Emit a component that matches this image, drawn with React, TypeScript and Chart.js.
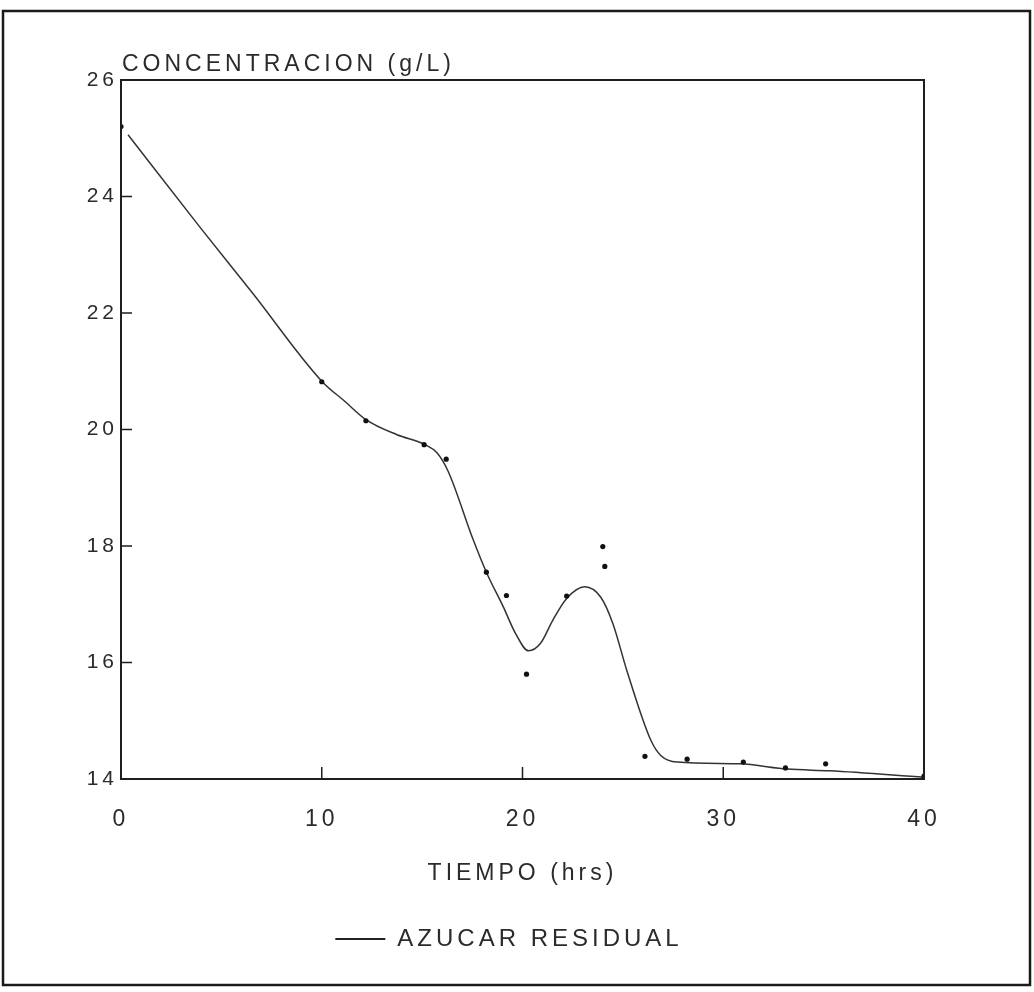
import React, { useEffect, useRef } from "react";
import { Chart, registerables } from "chart.js";

Chart.register(...registerables);

// Measured data (time in hrs, residual sugar g/L)
const pointTimes = [0, 10, 12.2, 15.1, 16.2, 18.2, 19.2, 20.2, 22.2, 24.1, 24, 26.1, 28.2, 31, 33.1, 35.1, 40];
const pointValues = [25.2, 20.82, 20.15, 19.74, 19.49, 17.55, 17.15, 15.8, 17.14, 17.65, 17.99, 14.39, 14.34, 14.29, 14.19, 14.26, 14.05];

// Fitted curve
const curveTimes = [0.35, 3.94, 6.58, 10, 11.16, 12.2, 13.75, 15.15, 15.74, 16.3, 17.54, 18.2, 19.05, 19.65, 20.3, 20.9, 21.5, 22.2, 23.1, 23.9, 24.5, 25.2, 26.4, 26.9, 27.7, 30.8, 33.2, 35.3, 40];
const curveValues = [25.06, 23.47, 22.33, 20.83, 20.48, 20.17, 19.91, 19.74, 19.6, 19.28, 18.11, 17.55, 16.95, 16.5, 16.2, 16.33, 16.72, 17.1, 17.3, 17.12, 16.67, 15.86, 14.66, 14.4, 14.29, 14.26, 14.17, 14.14, 14.03];

const xTickValues = [10, 20, 30];
const yTickValues = [16, 18, 20, 22, 24];

const yAxisLabel = "CONCENTRACION (g/L)";
const xAxisLabel = "TIEMPO (hrs)";
const seriesLabel = "AZUCAR RESIDUAL";

const FONT = "'Liberation Sans', Arial, sans-serif";
const INK = "#2b2b2b";
const SPACING = "4px";

export default function App() {
  const ref = useRef<HTMLCanvasElement | null>(null);

  useEffect(() => {
    const canvas = ref.current;
    if (!canvas) return;

    const framePlugin = {
      id: "framePlugin",
      beforeLayout(chart: any) {
        chart.ctx.letterSpacing = SPACING;
      },
      beforeDraw(chart: any) {
        chart.ctx.letterSpacing = SPACING;
      },
      afterDraw(chart: any) {
        const ctx = chart.ctx;
        const a = chart.chartArea;
        const xs = chart.scales.x;
        const ys = chart.scales.y;
        ctx.save();
        ctx.strokeStyle = "#1e1e1e";
        ctx.lineWidth = 2;
        ctx.strokeRect(a.left, a.top, a.right - a.left, a.bottom - a.top);
        ctx.lineWidth = 1.5;
        ctx.beginPath();
        for (const v of xTickValues) {
          const px = xs.getPixelForValue(v);
          ctx.moveTo(px, a.bottom);
          ctx.lineTo(px, a.bottom - 12);
        }
        for (const v of yTickValues) {
          const py = ys.getPixelForValue(v);
          ctx.moveTo(a.left, py);
          ctx.lineTo(a.left + 11, py);
        }
        ctx.stroke();
        // y axis caption above the plot
        ctx.letterSpacing = SPACING;
        ctx.fillStyle = INK;
        ctx.font = `23px ${FONT}`;
        ctx.textAlign = "left";
        ctx.textBaseline = "alphabetic";
        ctx.fillText(yAxisLabel, a.left + 1, a.top - 9);
        // outer page frame
        ctx.lineWidth = 2.5;
        ctx.strokeStyle = "#1a1a1a";
        ctx.strokeRect(3, 11, 1027, 974);
        ctx.restore();
      },
    };

    const chart = new Chart(canvas, {
      type: "scatter",
      data: {
        datasets: [
          {
            label: "curve",
            data: curveTimes.map((t, i) => ({ x: t, y: curveValues[i] })),
            showLine: true,
            borderColor: "#333",
            borderWidth: 1.5,
            pointRadius: 0,
            cubicInterpolationMode: "monotone",
            order: 2,
          },
          {
            label: seriesLabel,
            data: pointTimes.map((t, i) => ({ x: t, y: pointValues[i] })),
            showLine: false,
            backgroundColor: "#111",
            borderWidth: 0,
            pointRadius: 2.6,
            order: 1,
          },
        ],
      },
      options: {
        animation: false,
        responsive: false,
        devicePixelRatio: 1,
        layout: { padding: { top: 80, left: 0, right: 16, bottom: 31 } },
        plugins: {
          tooltip: { enabled: false },
          legend: {
            display: true,
            position: "bottom",
            labels: {
              boxWidth: 50,
              boxHeight: 2,
              padding: 8,
              color: INK,
              font: { size: 24, family: FONT },
              generateLabels: () => [
                {
                  text: seriesLabel,
                  fillStyle: "#222",
                  strokeStyle: "#222",
                  lineWidth: 0,
                  hidden: false,
                  datasetIndex: 0,
                  fontColor: INK,
                },
              ],
            },
          },
        },
        scales: {
          x: {
            type: "linear",
            min: 0,
            max: 40,
            grid: { display: false },
            border: { display: false },
            ticks: {
              stepSize: 10,
              padding: 19,
              color: INK,
              font: { size: 23, family: FONT },
              maxRotation: 0,
            },
            title: {
              display: true,
              text: xAxisLabel,
              color: INK,
              font: { size: 23, family: FONT },
              padding: { top: 0, bottom: 32 },
            },
            afterFit: (s: any) => {
              s.height = 140;
            },
          },
          y: {
            type: "linear",
            min: 14,
            max: 26,
            grid: { display: false },
            border: { display: false },
            ticks: {
              stepSize: 2,
              padding: -5,
              color: INK,
              font: { size: 21, family: FONT },
            },
            afterFit: (s: any) => {
              s.width = 121;
            },
          },
          yRightSpace: {
            type: "linear",
            position: "right",
            display: true,
            grid: { display: false },
            border: { display: false },
            ticks: { display: false },
            afterFit: (s: any) => {
              s.width = 94;
            },
          },
        },
      },
      plugins: [framePlugin],
    } as any);

    return () => chart.destroy();
  }, []);

  return (
    <div style={{ position: "fixed", left: 0, top: 0, width: 1034, height: 992, background: "#fff" }}>
      <canvas ref={ref} width={1034} height={992} style={{ width: 1034, height: 992, display: "block" }} />
    </div>
  );
}
